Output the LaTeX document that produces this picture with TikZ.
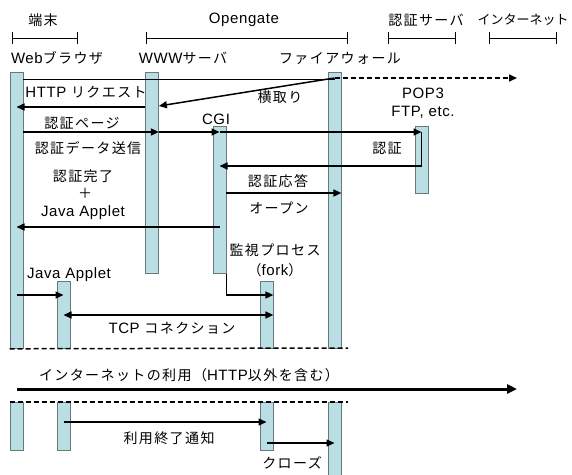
\documentclass[tikz,border=0pt]{standalone}
\usepackage{fontspec}
\setmainfont{Liberation Sans}[LetterSpace=4]
\newfontfamily\jp{Noto Sans CJK JP}[LetterSpace=10]
\newfontfamily\jpn{Noto Sans CJK JP}
\usetikzlibrary{arrows.meta}
\definecolor{barfill}{RGB}{185,223,228}
\definecolor{barline}{RGB}{105,120,124}
\newcommand\J[1]{{\jp\fontsize{14}{17}\selectfont #1}}
\begin{document}
\begin{tikzpicture}[x=1pt,y=-1pt,
  bar/.style={draw=barline, fill=barfill, line width=0.8pt, rectangle, inner sep=0pt, minimum width=13pt, anchor=north},
  lbl/.style={inner sep=0pt, font=\fontsize{15}{17}\selectfont},
  tip/.style={-{Triangle[length=8pt,width=7pt]}},
  msg/.style={line width=1.5pt, tip},
  thinline/.style={line width=0.8pt},
  sep/.style={line width=1.5pt, dash pattern=on 5pt off 3pt},
  brk/.style={line width=0.8pt, {Bar[width=12pt]}-{Bar[width=12pt]}}]
\useasboundingbox (0,0) rectangle (572,474);
% group brackets
\coordinate (b1a) at (12,38); \coordinate (b1b) at (78,38);
\coordinate (b2a) at (146,38); \coordinate (b2b) at (348,38);
\coordinate (b3a) at (388,38); \coordinate (b3b) at (456,38);
\coordinate (b4a) at (489,38); \coordinate (b4b) at (557,38);
\draw[brk] (b1a) -- (b1b);
\draw[brk] (b2a) -- (b2b);
\draw[brk] (b3a) -- (b3b);
\draw[brk] (b4a) -- (b4b);
\node[lbl] (gTerm) at (43,20) {\J{端末}};
\node[lbl] (gOG) at (244,20) {Opengate};
\node[lbl] (gAuth) at (426,20) {\J{認証サーバ}};
\node[lbl] (gNet) at (523,20) {\jpn\fontsize{13}{16}\selectfont インターネット};
\node[lbl] (pWeb) at (57,58) {Web\J{ブラウザ}};
\node[lbl] (pWWW) at (183,58) {WWW\J{サーバ}};
\node[lbl] (pFW) at (340,58) {\J{ファイアウォール}};
% activation bars
\node[bar, minimum height=276pt] (web1) at (16.5,72) {};
\node[bar, minimum height=201pt] (www) at (152,72) {};
\node[bar, minimum height=147pt] (cgi) at (219.5,126) {};
\node[bar, minimum height=276pt] (fw1) at (334.5,72) {};
\node[bar, minimum height=67pt] (auth) at (421.5,126) {};
\node[bar, minimum height=67pt] (app1) at (63.5,281) {};
\node[bar, minimum height=67pt] (mon1) at (266.5,281) {};
\node[bar, minimum height=48pt] (web2) at (16.5,402) {};
\node[bar, minimum height=48pt] (app2) at (63.5,402) {};
\node[bar, minimum height=48pt] (mon2) at (266.5,402) {};
\node[bar, minimum height=80pt] (fw2) at (334.5,402) {};
% messages
\coordinate (inet) at (517,78);
\draw[thinline] (web1.east |- 0,79) -- (fw1.center |- 0,79);
\draw[msg, dash pattern=on 5pt off 3pt] (fw1.center |- 0,78) -- (inet);
\draw[msg] (fw1.center |- 0,78) -- (www.east |- 0,106);
\draw[msg] (www.west |- 0,107) -- (web1.center |- 0,107);
\draw[msg] (web1.east |- 0,132) -- (www.east |- 0,132);
\draw[msg] (www.east |- 0,132) -- (cgi.center |- 0,132);
\draw[msg] (cgi.center |- 0,132) -- (auth.center |- 0,132);
\draw[thinline] (auth.center |- 0,132) -- (auth.center |- 0,166);
\draw[msg] (auth.center |- 0,166) -- (cgi.center |- 0,166);
\draw[msg] (cgi.east |- 0,193) -- (fw1.east |- 0,193);
\draw[msg] (cgi.center |- 0,227) -- (web1.center |- 0,227);
\draw[thinline] (cgi.south east) -- (cgi.east |- 0,295);
\draw[msg] (cgi.east |- 0,295) -- (mon1.east |- 0,295);
\draw[msg] (web1.center |- 0,295) -- (app1.center |- 0,295);
\draw[msg, {Triangle[length=8pt,width=7pt]}-{Triangle[length=8pt,width=7pt]}] (app1.center |- 0,315) -- (mon1.east |- 0,315);
\coordinate (sepA) at (348,348);
\coordinate (sepB) at (348,402);
\draw[sep] (web1.south west) -- (sepA);
\draw[sep] (web2.north west) -- (sepB);
\coordinate (useS) at (17,389);
\coordinate (useE) at (517,389);
\draw[line width=3pt, -{Triangle[length=10pt,width=9pt]}] (useS) -- (useE);
\draw[msg] (app2.center |- 0,422) -- (mon2.center |- 0,422);
\draw[msg] (mon2.center |- 0,443) -- (fw2.center |- 0,443);
% labels
\node[lbl] (tHTTP) at (86,92) {HTTP \J{リクエスト}};
\node[lbl] (tIntercept) at (280,97) {\J{横取り}};
\node[lbl] (tPage) at (82,123) {\J{認証ページ}};
\node[lbl] (tCGI) at (216,119) {CGI};
\node[lbl] (tPOP) at (423,93) {POP3};
\node[lbl] (tFTP) at (423,112) {FTP, etc.};
\node[lbl] (tSend) at (88,148) {\J{認証データ送信}};
\node[lbl] (tAuth) at (387,148) {\J{認証}};
\node[lbl] (tDone) at (83,176) {\J{認証完了}};
\node[lbl] (tPlus) at (85,193) {\J{＋}};
\node[lbl] (tJava1) at (83,213) {Java Applet};
\node[lbl] (tResp) at (278,181) {\J{認証応答}};
\node[lbl] (tOpen) at (279,208) {\J{オープン}};
\node[lbl] (tMon) at (275,250) {\J{監視プロセス}};
\node[lbl] (tFork) at (275,270) {\J{（}fork\J{）}};
\node[lbl] (tJava2) at (69,275) {Java Applet};
\node[lbl] (tTCP) at (172,328) {TCP \J{コネクション}};
\node[lbl] (tUse) at (189,375) {\J{インターネットの利用（}HTTP\J{以外を含む）}};
\node[lbl] (tEnd) at (169,438) {\J{利用終了通知}};
\node[lbl] (tClose) at (292,463) {\J{クローズ}};
\end{tikzpicture}
\end{document}
